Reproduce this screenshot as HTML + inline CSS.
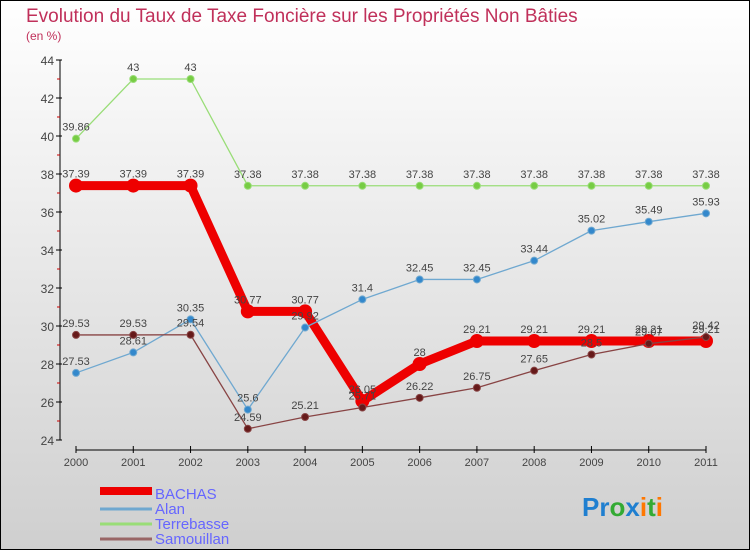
<!DOCTYPE html>
<html><head><meta charset="utf-8"><style>
body{margin:0}
svg text{font-family:"Liberation Sans","DejaVu Sans",sans-serif}
</style></head><body>
<svg id="chart" width="750" height="550" xmlns="http://www.w3.org/2000/svg">
<defs><linearGradient id="bg" x1="0" y1="0" x2="0" y2="1"><stop offset="0" stop-color="#ffffff"/><stop offset="1" stop-color="#cfcfcf"/></linearGradient></defs>
<rect x="0.5" y="0.5" width="749" height="549" fill="url(#bg)" stroke="#000"/>
<text x="26" y="22" font-size="19" fill="#c0305a">Evolution du Taux de Taxe Foncière sur les Propriétés Non Bâties</text>
<text x="26" y="40" font-size="12" fill="#c0305a">(en %)</text>
<g id="axes"></g>
<g id="series"></g>
<g id="legend">
<rect x="100" y="487" width="52" height="8" fill="#ee0000"/>
<text x="155" y="499" font-size="15" fill="#6666ff">BACHAS</text>
<line x1="100" y1="509" x2="152" y2="509" stroke="#6fa8d0" stroke-width="3"/>
<text x="155" y="514" font-size="15" fill="#6666ff">Alan</text>
<line x1="100" y1="524" x2="152" y2="524" stroke="#99dd77" stroke-width="3"/>
<text x="155" y="529" font-size="15" fill="#6666ff">Terrebasse</text>
<line x1="100" y1="539" x2="152" y2="539" stroke="#996666" stroke-width="3"/>
<text x="155" y="544" font-size="15" fill="#6666ff">Samouillan</text>
</g>
<g font-size="26" font-weight="bold">
<text x="582" y="516"><tspan fill="#1f7fd0">Pr</tspan><tspan fill="#33aa33">o</tspan><tspan fill="#1f7fd0">x</tspan><tspan fill="#ff7700">i</tspan><tspan fill="#33aa33">t</tspan><tspan fill="#ff7700">i</tspan></text>
</g>
</svg>
<script>
const years=["2000","2001","2002","2003","2004","2005","2006","2007","2008","2009","2010","2011"];
const yTicks=[24,26,28,30,32,34,36,38,40,42,44];
const bachas=[37.39,37.39,37.39,30.77,30.77,26.05,28,29.21,29.21,29.21,29.21,29.21];
const alan=[27.53,28.61,30.35,25.6,29.92,31.4,32.45,32.45,33.44,35.02,35.49,35.93];
const terrebasse=[39.86,43,43,37.38,37.38,37.38,37.38,37.38,37.38,37.38,37.38,37.38];
const samouillan=[29.53,29.53,29.54,24.59,25.21,25.71,26.22,26.75,27.65,28.5,29.07,29.42];
const NS="http://www.w3.org/2000/svg";
const x0=76,x1=706,yMin=24,yMax=44,py0=440,py1=60;
const xs=i=>x0+(x1-x0)*i/(years.length-1);
const ys=v=>py0-(v-yMin)*(py0-py1)/(yMax-yMin);
function mk(tag,attrs,parent){const e=document.createElementNS(NS,tag);for(const k in attrs)e.setAttribute(k,attrs[k]);parent.appendChild(e);return e;}
const ax=document.getElementById('axes');
let l=mk('line',{x1:60,y1:py1,x2:60,y2:py0,stroke:'#000'},ax);


l=mk('line',{x1:x0,y1:450,x2:x1,y2:450,stroke:'#000'},ax);


yTicks.forEach((t,i)=>{const y=ys(t);
mk('line',{x1:56,y1:y,x2:62,y2:y,stroke:'#000'},ax);
if(i<yTicks.length-1)mk('line',{x1:57,y1:ys(t+1),x2:60,y2:ys(t+1),stroke:'#c00'},ax);
const tx=mk('text',{x:54,y:y+5,'font-size':12,'text-anchor':'end',fill:'#444'},ax);tx.textContent=t;

});
years.forEach((yr,i)=>{const x=xs(i);
mk('line',{x1:x,y1:446,x2:x,y2:453,stroke:'#000'},ax);
const tx=mk('text',{x:x,y:466,'font-size':11,'text-anchor':'middle',fill:'#444'},ax);tx.textContent=yr;

});
const sg=document.getElementById('series');
function draw(name,data,color,w,r,ptColor){
const g=mk('g',{},sg);


const p=mk('polyline',{points:data.map((v,i)=>xs(i)+','+ys(v)).join(' '),fill:'none',stroke:color,'stroke-width':w,'stroke-linejoin':'round'},g);


data.forEach((v,i)=>{const c=mk('circle',{cx:xs(i),cy:ys(v),r:r,fill:ptColor,stroke:color,'stroke-width':1},g);


const t=mk('text',{x:xs(i),y:ys(v)-8,'font-size':11,'text-anchor':'middle',fill:'#444'},g);t.textContent=v;

});}
draw('terrebasse',terrebasse,'#99dd77',1.3,3.5,'#77cc44');
draw('bachas',bachas,'#ee0000',9,6.5,'#ee0000');
draw('alan',alan,'#6fa8d0',1.3,3.5,'#3388cc');
draw('samouillan',samouillan,'#884444',1.3,3.5,'#661a1a');
</script>
</body></html>
